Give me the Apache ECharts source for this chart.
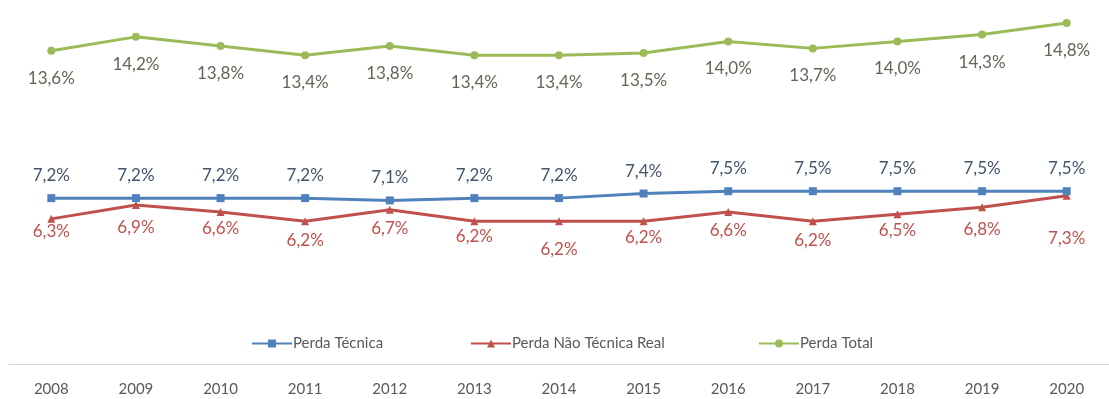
<!DOCTYPE html>
<html>
<head>
<meta charset="utf-8">
<script src="https://cdn.jsdelivr.net/npm/echarts@6/dist/echarts.min.js"></script>
<style>
  html, body { margin: 0; padding: 0; background: #ffffff; }
  #chart { width: 1109px; height: 399px; }
</style>
</head>
<body>
<div id="chart"></div>
<script>
// Loss indicators (% of injected energy), 2008-2020
const years = ['2008','2009','2010','2011','2012','2013','2014','2015','2016','2017','2018','2019','2020'];
const perdaTecnica = [7.2, 7.2, 7.2, 7.2, 7.1, 7.2, 7.2, 7.4, 7.5, 7.5, 7.5, 7.5, 7.5];
const perdaNaoTecnica = [6.3, 6.9, 6.6, 6.2, 6.7, 6.2, 6.2, 6.2, 6.6, 6.2, 6.5, 6.8, 7.3];
const perdaTotal = [13.6, 14.2, 13.8, 13.4, 13.8, 13.4, 13.4, 13.5, 14.0, 13.7, 14.0, 14.3, 14.8];

// Extra downward gap for each red label so neighbouring labels stay readable
const redLabelGap = [0, 10, 4, 7, 6, 3, 16, 4, 6, 7, 4, 10, 30];

const FONT = 'Lato, "Open Sans", sans-serif';
const pct = v => v.toFixed(1).replace('.', ',') + '%';

const chart = echarts.init(document.getElementById('chart'), null, { renderer: 'canvas' });

function legendFor(name, left) {
  return {
    data: [name],
    left: left,
    top: 331,
    itemWidth: 40,
    itemHeight: 10,
    itemGap: 0,
    textStyle: { color: '#595959', fontSize: 15, fontFamily: FONT, padding: [0, 0, 0, -4] }
  };
}

chart.setOption({
  backgroundColor: '#ffffff',
  animation: false,
  legend: [
    legendFor('Perda Técnica', 246),
    legendFor('Perda Não Técnica Real', 465),
    legendFor('Perda Total', 753)
  ],
  grid: { left: 9, right: 0, top: 0, bottom: 35, containLabel: false },
  xAxis: {
    type: 'category',
    data: years,
    boundaryGap: true,
    axisLine: { lineStyle: { color: '#d9d9d9', width: 1 } },
    axisTick: { show: false },
    axisLabel: { color: '#595959', fontSize: 15, fontFamily: FONT, margin: 18 }
  },
  yAxis: {
    type: 'value',
    min: 0,
    max: 15.8,
    show: false,
    splitLine: { show: false }
  },
  series: [
    {
      name: 'Perda Técnica',
      type: 'line',
      data: perdaTecnica,
      symbol: 'rect',
      symbolSize: 8,
      color: '#4f81bd',
      lineStyle: { width: 3, color: '#4f81bd' },
      itemStyle: { color: '#4f81bd' },
      label: {
        show: true,
        position: 'top',
        distance: 10,
        formatter: p => pct(p.value),
        color: '#44546a',
        fontSize: 17,
        fontFamily: FONT
      },
      z: 3
    },
    {
      name: 'Perda Não Técnica Real',
      type: 'line',
      data: perdaNaoTecnica.map((v, i) => ({
        value: v,
        label: { distance: redLabelGap[i] }
      })),
      symbol: 'triangle',
      symbolSize: 8,
      color: '#c0504d',
      lineStyle: { width: 3, color: '#c0504d' },
      itemStyle: { color: '#c0504d' },
      label: {
        show: true,
        position: 'bottom',
        formatter: p => pct(p.value),
        color: '#c0504d',
        fontSize: 17,
        fontFamily: FONT
      },
      z: 2
    },
    {
      name: 'Perda Total',
      type: 'line',
      data: perdaTotal,
      symbol: 'circle',
      symbolSize: 8,
      color: '#9bbb59',
      lineStyle: { width: 3, color: '#9bbb59' },
      itemStyle: { color: '#9bbb59' },
      label: {
        show: true,
        position: 'bottom',
        distance: 15,
        formatter: p => pct(p.value),
        color: '#5f6757',
        fontSize: 17,
        fontFamily: FONT
      },
      z: 2
    }
  ]
});
</script>
</body>
</html>
